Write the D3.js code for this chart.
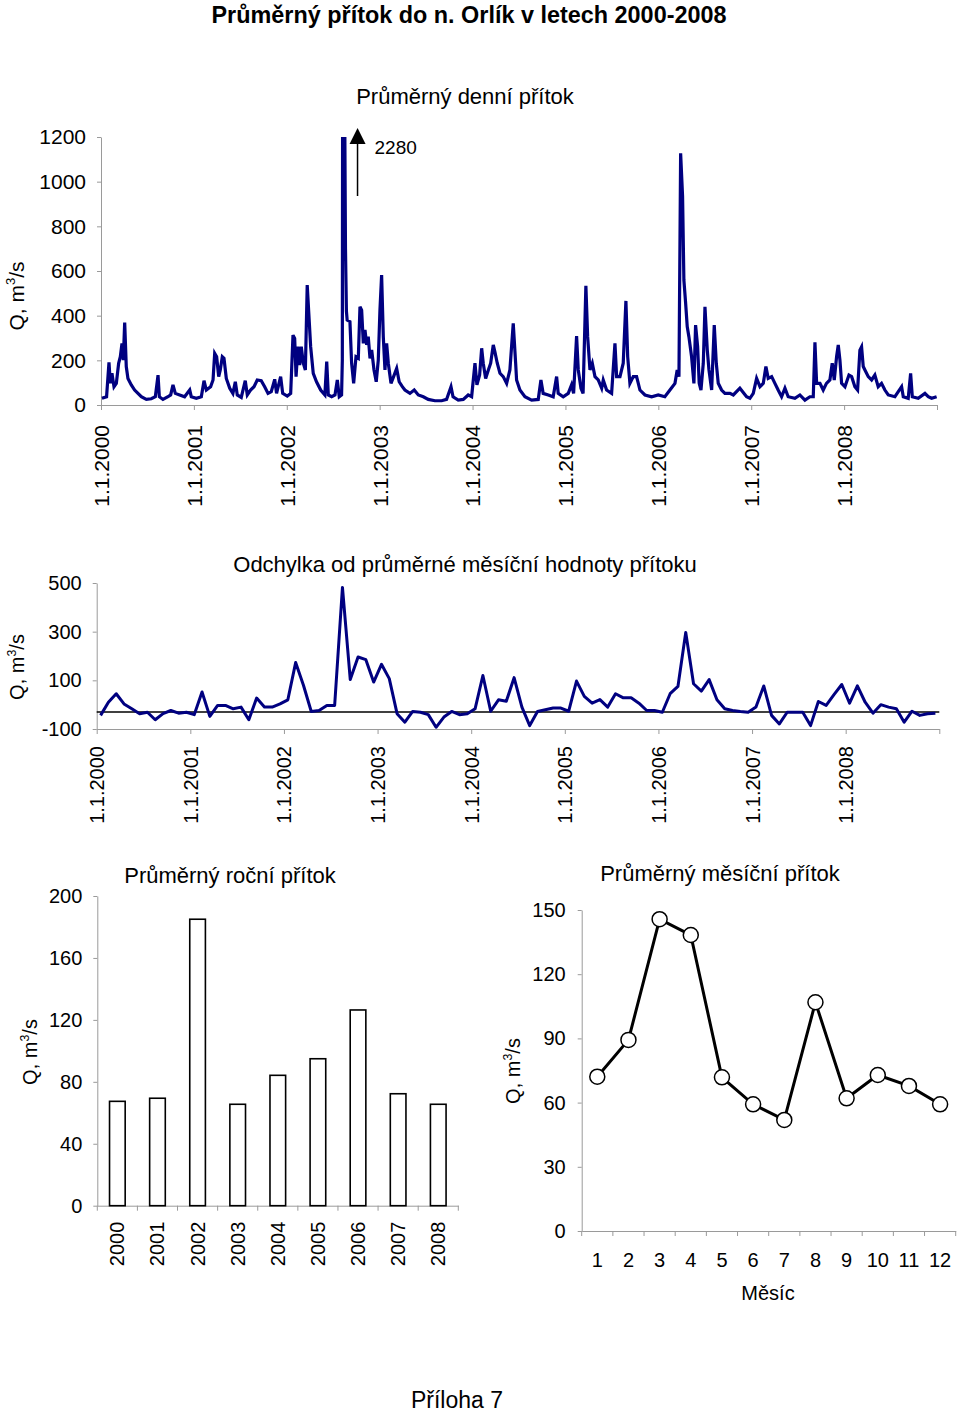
<!DOCTYPE html>
<html><head><meta charset="utf-8">
<script src="https://cdn.jsdelivr.net/npm/d3@7"></script>
<style>
body{margin:0;background:#fff;}
svg text{font-family:"Liberation Sans",Arial,Helvetica,sans-serif;fill:#000;}
</style></head><body>
<svg id="c" width="960" height="1412"></svg>
<script>
// ---------- DATA ----------
// Daily mean inflow (decimal year, m3/s)
const dailyFlow = [
[2000.01,30],[2000.06,37],[2000.086,191],[2000.10,97],[2000.118,142],[2000.14,82],[2000.165,97],[2000.19,187],[2000.208,216],[2000.226,276],[2000.24,201],[2000.255,369],[2000.272,172],[2000.29,119],[2000.326,90],[2000.362,67],[2000.398,52],[2000.434,37],[2000.488,25],[2000.541,28],[2000.585,37],[2000.614,134],[2000.628,37],[2000.667,25],[2000.721,37],[2000.75,45],[2000.775,90],[2000.80,52],[2000.847,45],[2000.90,37],[2000.955,67],[2000.972,37],
[2001.026,30],[2001.08,37],[2001.109,109],[2001.134,67],[2001.18,82],[2001.206,112],[2001.224,231],[2001.245,216],[2001.267,127],[2001.284,157],[2001.306,216],[2001.324,209],[2001.349,119],[2001.386,75],[2001.42,52],[2001.446,104],[2001.467,45],[2001.51,34],[2001.553,109],[2001.575,45],[2001.61,67],[2001.647,82],[2001.682,112],[2001.725,109],[2001.762,82],[2001.798,52],[2001.833,60],[2001.87,115],[2001.89,52],[2001.934,127],[2001.956,52],
[2002.005,40],[2002.042,52],[2002.067,313],[2002.085,298],[2002.10,127],[2002.12,261],[2002.139,179],[2002.156,261],[2002.178,187],[2002.20,157],[2002.22,537],[2002.257,261],[2002.285,142],[2002.32,104],[2002.365,67],[2002.41,45],[2002.43,194],[2002.447,45],[2002.483,37],[2002.519,45],[2002.544,112],[2002.565,37],[2002.59,45],[2002.598,200],[2002.601,1300],[2002.606,2000],[2002.611,2280],[2002.617,1900],[2002.624,1300],[2002.632,700],[2002.642,420],[2002.65,380],[2002.68,373],[2002.698,187],[2002.72,97],[2002.745,216],[2002.77,209],[2002.788,440],[2002.806,425],[2002.824,276],[2002.842,336],[2002.86,269],[2002.877,306],[2002.896,209],[2002.914,246],[2002.939,157],[2002.963,104],[2002.985,201],
[2003.003,425],[2003.021,582],[2003.039,306],[2003.057,157],[2003.075,276],[2003.093,187],[2003.122,97],[2003.15,127],[2003.183,164],[2003.21,104],[2003.244,82],[2003.272,67],[2003.326,52],[2003.372,67],[2003.416,45],[2003.47,37],[2003.523,25],[2003.595,19],[2003.667,19],[2003.72,25],[2003.768,82],[2003.79,37],[2003.846,22],[2003.9,25],[2003.953,45],[2003.99,37],
[2004.026,187],[2004.047,90],[2004.076,134],[2004.098,254],[2004.115,187],[2004.141,119],[2004.17,157],[2004.195,187],[2004.223,269],[2004.24,239],[2004.266,187],[2004.295,142],[2004.33,127],[2004.367,97],[2004.402,157],[2004.438,366],[2004.464,187],[2004.474,112],[2004.51,67],[2004.564,37],[2004.636,22],[2004.707,25],[2004.736,112],[2004.76,52],[2004.815,45],[2004.868,37],[2004.905,127],[2004.922,52],[2004.976,37],
[2005.03,52],[2005.066,90],[2005.088,52],[2005.12,309],[2005.138,157],[2005.167,75],[2005.19,52],[2005.22,534],[2005.239,306],[2005.264,157],[2005.289,187],[2005.318,127],[2005.353,112],[2005.39,75],[2005.407,112],[2005.443,67],[2005.497,52],[2005.533,276],[2005.551,127],[2005.587,127],[2005.622,187],[2005.651,466],[2005.67,216],[2005.694,97],[2005.73,127],[2005.766,127],[2005.802,67],[2005.856,45],[2005.928,37],[2005.999,45],
[2006.07,37],[2006.125,67],[2006.179,97],[2006.203,157],[2006.222,127],[2006.24,1127],[2006.261,933],[2006.275,560],[2006.294,455],[2006.311,351],[2006.329,306],[2006.358,216],[2006.383,97],[2006.401,358],[2006.423,261],[2006.44,97],[2006.459,67],[2006.484,187],[2006.502,440],[2006.527,246],[2006.545,157],[2006.574,67],[2006.602,358],[2006.624,187],[2006.645,97],[2006.681,67],[2006.717,52],[2006.771,52],[2006.807,45],[2006.878,75],[2006.95,37],[2006.986,30],
[2007.022,52],[2007.058,119],[2007.094,82],[2007.13,97],[2007.158,172],[2007.183,119],[2007.22,127],[2007.255,97],[2007.29,67],[2007.327,37],[2007.363,75],[2007.398,37],[2007.47,30],[2007.524,45],[2007.578,22],[2007.632,37],[2007.668,37],[2007.686,281],[2007.704,97],[2007.74,97],[2007.775,67],[2007.81,97],[2007.847,112],[2007.872,187],[2007.894,112],[2007.919,216],[2007.937,269],[2007.955,201],[2007.973,97],
[2008.009,82],[2008.052,134],[2008.081,127],[2008.116,82],[2008.145,67],[2008.17,246],[2008.188,261],[2008.206,172],[2008.224,157],[2008.26,127],[2008.296,112],[2008.331,134],[2008.367,82],[2008.403,97],[2008.439,67],[2008.475,45],[2008.547,37],[2008.619,82],[2008.637,37],[2008.69,30],[2008.716,142],[2008.734,37],[2008.798,30],[2008.87,52],[2008.906,37],[2008.942,30],[2008.996,37]
];
const dailyYTicks = [0,200,400,600,800,1000,1200];
const yearStarts = [2000,2001,2002,2003,2004,2005,2006,2007,2008];

// Monthly deviation from mean monthly value (Jan 2000 .. Dec 2008)
const monthlyDeviation = [
-44,10,45,3,-17,-37,-31,-62,-37,-24,-35,-31,
-41,52,-48,-3,-3,-17,-10,-62,27,-10,-10,3,
20,173,80,-28,-24,-3,-3,482,103,196,185,93,
166,107,-37,-72,-28,-31,-41,-93,-51,-28,-41,-37,
-17,120,-27,20,14,111,-10,-86,-28,-21,-14,-14,
-27,97,34,6,21,-10,45,28,28,6,-24,-24,
-31,45,75,297,86,56,103,20,-17,-24,-28,-31,
-10,77,-44,-79,-31,-31,-31,-86,13,-3,41,83,
6,77,10,-35,0,-10,-17,-72,-27,-44,-37,-35
];
const deviationRef = -30;
const deviationYTicks = [-100,100,300,500];

// Annual mean inflow
const years = ["2000","2001","2002","2003","2004","2005","2006","2007","2008"];
const annualMean = [67.4,69.4,185,65.5,84.2,94.9,126.4,72.3,65.5];
const annualYTicks = [0,40,80,120,160,200];

// Mean monthly inflow
const months = ["1","2","3","4","5","6","7","8","9","10","11","12"];
const monthlyMean = [72.1,89.3,145.7,138.3,71.8,59.2,51.9,106.9,62,72.9,67.8,59.2];
const monthlyYTicks = [0,30,60,90,120,150];

const mainTitle = "Průměrný přítok do n. Orlík v letech 2000-2008";
const titles = ["Průměrný denní přítok","Odchylka od průměrné měsíční hodnoty přítoku","Průměrný roční přítok","Průměrný měsíční přítok"];
const footer = "Příloha 7";

// ---------- DRAW ----------
const svg = d3.select("#c");
const AX = "#9a9a9a", NAVY = "#000080";
const plain = d => String(d);

function styleAxis(g, size){
  g.attr("font-family", null).attr("font-size", null);
  g.select(".domain").attr("stroke", AX).attr("stroke-width",1);
  g.selectAll(".tick line").attr("stroke", AX);
  g.selectAll(".tick text").style("font-size", size+"px").attr("fill","#000");
}
function yLabel(x, y, size){
  const t = svg.append("text").attr("transform",`translate(${x},${y}) rotate(-90)`)
    .attr("text-anchor","middle").style("font-size",size+"px");
  t.append("tspan").text("Q, m");
  t.append("tspan").attr("dy",-size*0.42).style("font-size",(size*0.62)+"px").text("3");
  t.append("tspan").attr("dy",size*0.42).text("/s");
}
function rotateLabels(g, off){
  g.selectAll(".tick text").attr("y",0).attr("dy","0.35em").attr("x",-off)
    .attr("text-anchor","end").attr("transform","rotate(-90)");
}

// Main title (bold, condensed)
svg.append("text").attr("x",469).attr("y",23).attr("text-anchor","middle")
  .style("font-weight","bold").style("font-size","24px")
  .attr("textLength",515).attr("lengthAdjust","spacingAndGlyphs").text(mainTitle);

// ===== Chart 1: daily =====
const x1 = d3.scaleLinear().domain([2000,2009]).range([101,937]);
const y1 = d3.scaleLinear().domain([0,1200]).range([405,137]);
svg.append("clipPath").attr("id","clip1").append("rect")
  .attr("x",x1(2000)).attr("y",y1(1200)).attr("width",x1(2009)-x1(2000)+4).attr("height",y1(0)-y1(1200)+6);

svg.append("g").attr("transform",`translate(0,${y1(0)})`)
  .call(d3.axisBottom(x1).tickValues(yearStarts.concat([2009])).tickSize(5).tickSizeOuter(0)
     .tickFormat(d => d < 2009 ? "1.1."+d : ""))
  .call(g => styleAxis(g,21)).call(g => rotateLabels(g,20));
svg.append("g").attr("transform",`translate(${x1(2000)},0)`)
  .call(d3.axisLeft(y1).tickValues(dailyYTicks).tickFormat(plain).tickSize(4).tickSizeOuter(0).tickPadding(11))
  .call(g => styleAxis(g,21));

svg.append("path").datum(dailyFlow).attr("clip-path","url(#clip1)")
  .attr("fill","none").attr("stroke",NAVY).attr("stroke-width",3.2).attr("stroke-linejoin","miter")
  .attr("d", d3.line().x(d=>x1(d[0])).y(d=>y1(d[1])));

// annotation for clipped peak
const peak = dailyFlow.reduce((a,b)=> b[1]>a[1]?b:a);
const ax = x1(peak[0]) + 14, aTop = y1(1200) - 9;
svg.append("line").attr("x1",ax).attr("x2",ax).attr("y1",y1(1200)+59).attr("y2",aTop+14)
  .attr("stroke","#000").attr("stroke-width",1.5);
svg.append("path").attr("d",`M${ax},${aTop} L${ax-8},${aTop+16} L${ax+8},${aTop+16} Z`).attr("fill","#000");
svg.append("text").attr("x",ax+17).attr("y",aTop+26).style("font-size","19px").text(peak[1]);

svg.append("text").attr("x",465).attr("y",104).attr("text-anchor","middle").style("font-size","22px").text(titles[0]);
yLabel(24, 296, 21);

// ===== Chart 2: monthly deviation =====
const x2 = d3.scaleLinear().domain([0,108]).range([96.7,939.3]);
const y2 = d3.scaleLinear().domain([-100,500]).range([729,583]);
svg.append("g").attr("transform",`translate(0,${y2(-100)})`)
  .call(d3.axisBottom(x2).tickValues(d3.range(0,109,12)).tickSize(5).tickSizeOuter(0)
     .tickFormat(d => d < 108 ? "1.1."+(2000+d/12) : ""))
  .call(g => styleAxis(g,20)).call(g => rotateLabels(g,17));
svg.append("g").attr("transform",`translate(${x2(0)},0)`)
  .call(d3.axisLeft(y2).tickValues(deviationYTicks).tickFormat(plain).tickSize(4).tickSizeOuter(0).tickPadding(11))
  .call(g => styleAxis(g,20));
svg.append("line").attr("x1",x2(0)).attr("x2",x2(108)).attr("y1",y2(deviationRef)).attr("y2",y2(deviationRef))
  .attr("stroke","#000").attr("stroke-width",1.5);
svg.append("path").datum(monthlyDeviation)
  .attr("fill","none").attr("stroke",NAVY).attr("stroke-width",3).attr("stroke-linejoin","round")
  .attr("d", d3.line().x((d,i)=>x2(i+0.5)).y(d=>y2(d)));
svg.append("text").attr("x",465).attr("y",572).attr("text-anchor","middle").style("font-size","22px").text(titles[1]);
yLabel(24, 667, 20);

// ===== Chart 3: annual bars =====
const x3 = d3.scaleBand().domain(years).range([97.3,458.3]);
const y3 = d3.scaleLinear().domain([0,200]).range([1205.7,896]);
const bw = x3.bandwidth()*0.39;
svg.append("g").attr("transform",`translate(0,${y3(0)})`)
  .call(d3.axisBottom(x3).tickSize(0).tickSizeOuter(0))
  .call(g => styleAxis(g,20)).call(g => rotateLabels(g,16));
svg.append("g").selectAll("line").data(years.concat(["end"])).join("line")
  .attr("x1",(d,i)=> x3.range()[0] + i*x3.step()).attr("x2",(d,i)=> x3.range()[0] + i*x3.step())
  .attr("y1",y3(0)).attr("y2",y3(0)+5).attr("stroke",AX);
svg.append("g").attr("transform",`translate(${x3.range()[0]},0)`)
  .call(d3.axisLeft(y3).tickValues(annualYTicks).tickFormat(plain).tickSize(4).tickSizeOuter(0).tickPadding(11))
  .call(g => styleAxis(g,20));
svg.append("g").selectAll("rect").data(years).join("rect")
  .attr("x",d=> x3(d)+x3.bandwidth()/2-bw/2).attr("width",bw)
  .attr("y",(d,i)=> y3(annualMean[i])).attr("height",(d,i)=> y3(0)-y3(annualMean[i]))
  .attr("fill","#fff").attr("stroke","#000").attr("stroke-width",1.6);
svg.append("text").attr("x",230).attr("y",883).attr("text-anchor","middle").style("font-size","22px").text(titles[2]);
yLabel(37, 1052, 20);

// ===== Chart 4: monthly mean =====
const x4 = d3.scaleBand().domain(months).range([581.7,955.7]);
const y4 = d3.scaleLinear().domain([0,150]).range([1231,910]);
svg.append("g").attr("transform",`translate(0,${y4(0)})`)
  .call(d3.axisBottom(x4).tickSize(0).tickSizeOuter(0).tickPadding(22))
  .call(g => styleAxis(g,20));
svg.append("g").selectAll("line").data(months.concat(["end"])).join("line")
  .attr("x1",(d,i)=> x4.range()[0] + i*x4.step()).attr("x2",(d,i)=> x4.range()[0] + i*x4.step())
  .attr("y1",y4(0)).attr("y2",y4(0)+5).attr("stroke",AX);
svg.append("g").attr("transform",`translate(${x4.range()[0]},0)`)
  .call(d3.axisLeft(y4).tickValues(monthlyYTicks).tickFormat(plain).tickSize(4).tickSizeOuter(0).tickPadding(12))
  .call(g => styleAxis(g,20));
svg.append("path").datum(monthlyMean)
  .attr("fill","none").attr("stroke","#000").attr("stroke-width",3)
  .attr("d", d3.line().x((d,i)=>x4(months[i])+x4.bandwidth()/2).y(d=>y4(d)));
svg.append("g").selectAll("circle").data(monthlyMean).join("circle")
  .attr("cx",(d,i)=>x4(months[i])+x4.bandwidth()/2).attr("cy",d=>y4(d)).attr("r",7.5)
  .attr("fill","#fff").attr("stroke","#000").attr("stroke-width",1.5);
svg.append("text").attr("x",720).attr("y",881).attr("text-anchor","middle").style("font-size","22px").text(titles[3]);
svg.append("text").attr("x",768).attr("y",1300).attr("text-anchor","middle").style("font-size","20px").text("Měsíc");
yLabel(520, 1071, 20);

// Footer
svg.append("text").attr("x",457).attr("y",1408).attr("text-anchor","middle").style("font-size","23px").text(footer);
</script>
</body></html>
